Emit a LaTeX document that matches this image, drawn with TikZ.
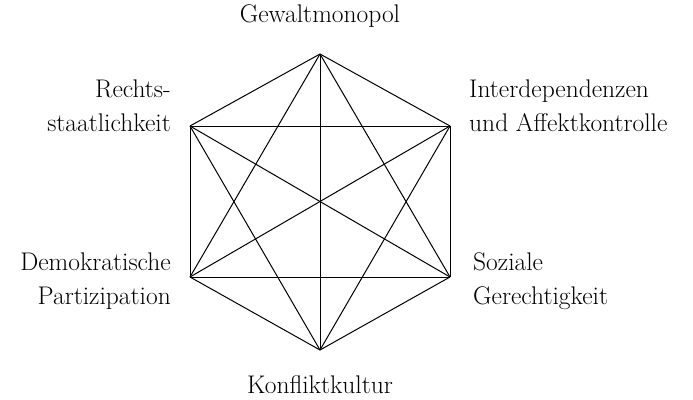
\documentclass[tikz,border=0pt]{standalone}
\begin{document}
\begin{tikzpicture}[x=1pt,y=-1pt,
  edge/.style={line width=1pt,black},
  lbl/.style={inner sep=0pt,font=\fontsize{25.5}{34}\selectfont}]
\useasboundingbox (0,0) rectangle (693,399);
\coordinate (t) at (320,54);
\coordinate (ur) at (450,126);
\coordinate (lr) at (450,277);
\coordinate (b) at (320,350);
\coordinate (ll) at (190,277);
\coordinate (ul) at (190,126);
\foreach \p/\q in {t/ur,t/lr,t/b,t/ll,t/ul,ur/lr,ur/b,ur/ll,ur/ul,lr/b,lr/ll,lr/ul,b/ll,b/ul,ll/ul}
  \draw[edge] (\p) -- (\q);
\node[lbl] (lt) at (320,16) {Gewaltmonopol};
\node[lbl] (lb) at (320,385) {Konfliktkultur};
\node[lbl,anchor=east,align=right] (lul) at (171,106) {Rechts-\\staatlichkeit};
\node[lbl,anchor=west,align=left] (lur) at (469,106) {Interdependenzen\\und Affektkontrolle};
\node[lbl,anchor=east,align=right] (lll) at (171,281) {Demokratische\\Partizipation};
\node[lbl,anchor=west,align=left] (llr) at (473,281) {Soziale\\Gerechtigkeit};
\end{tikzpicture}
\end{document}
